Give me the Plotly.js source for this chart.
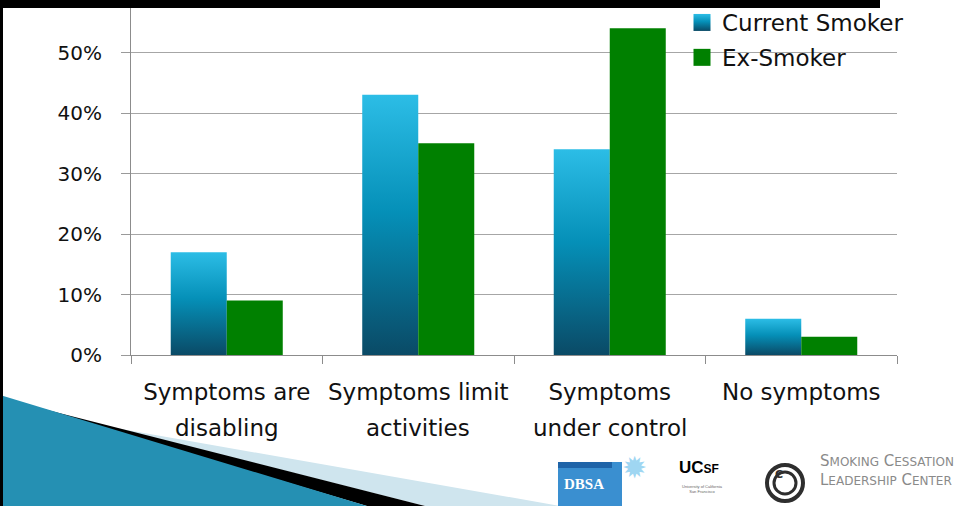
<!DOCTYPE html>
<html>
<head>
<meta charset="utf-8">
<script src="https://cdn.plot.ly/plotly-3.0.1.min.js"></script>
<style>
html,body{margin:0;padding:0;background:#fff;}
#chart{width:964px;height:506px;}
</style>
</head>
<body>
<div id="chart"></div>
<script>
// ---- data ----
const categories = ["Symptoms are disabling", "Symptoms limit activities", "Symptoms under control", "No symptoms"];
const labelLine1 = ["Symptoms are", "Symptoms limit", "Symptoms", "No symptoms"];
const labelLine2 = ["disabling", "activities", "under control", ""];
const currentSmoker = [0.17, 0.43, 0.34, 0.06];
const exSmoker = [0.09, 0.35, 0.54, 0.03];
const yTickVals = [0, 0.1, 0.2, 0.3, 0.4, 0.5];
const seriesNames = ["Current Smoker", "Ex-Smoker"];

// ---- layout helpers (pixel -> paper) ----
const W = 964, H = 506;
const M = {l: 131, r: 67, t: 0, b: 151};
const PW = W - M.l - M.r, PH = H - M.t - M.b;
const px = x => (x - M.l) / PW;
const py = y => (H - M.b - y) / PH;
const poly = pts => 'M' + pts.map(p => px(p[0]) + ',' + py(p[1])).join('L') + 'Z';

const FONT = '"DejaVu Sans", sans-serif';

const traces = [
  {type: 'bar', name: seriesNames[0], x: categories, y: currentSmoker,
   marker: {color: '#1a93bd', line: {width: 0}}, legendgroup: 'a', hoverinfo: 'skip'},
  {type: 'bar', name: seriesNames[1], x: categories, y: exSmoker,
   marker: {color: '#008000', line: {width: 0}}, legendgroup: 'b', hoverinfo: 'skip'}
];

const shapes = [
  // slide decorations
  {type: 'path', xref: 'paper', yref: 'paper', layer: 'below', path: poly([[110,427],[560,506],[425,506]]), fillcolor: '#cfe5ee', line: {width: 0}},
  {type: 'path', xref: 'paper', yref: 'paper', layer: 'below', path: poly([[0,398],[425,506],[367,506]]), fillcolor: '#000000', line: {width: 0}},
  {type: 'path', xref: 'paper', yref: 'paper', layer: 'below', path: poly([[0,395],[0,506],[367,506]]), fillcolor: '#2590b3', line: {width: 0}},
  {type: 'rect', xref: 'paper', yref: 'paper', layer: 'above', x0: px(0), x1: px(880), y0: py(0), y1: py(8), fillcolor: '#000', line: {width: 0}},
  {type: 'rect', xref: 'paper', yref: 'paper', layer: 'above', x0: px(0), x1: px(3), y0: py(0), y1: py(506), fillcolor: '#000', line: {width: 0}},
  // DBSA logo
  {type: 'rect', xref: 'paper', yref: 'paper', layer: 'below', x0: px(558), x1: px(622), y0: py(462), y1: py(506), fillcolor: '#3a8fd0', line: {width: 0}},
  {type: 'rect', xref: 'paper', yref: 'paper', layer: 'below', x0: px(558), x1: px(612), y0: py(462), y1: py(468), fillcolor: '#1f64a8', line: {width: 0}},
  // SCLC logo rings
  {type: 'circle', xref: 'paper', yref: 'paper', layer: 'below', x0: px(767), x1: px(803), y0: py(465), y1: py(501), fillcolor: 'rgba(0,0,0,0)', line: {color: '#2e2e2e', width: 4}},
  {type: 'circle', xref: 'paper', yref: 'paper', layer: 'below', x0: px(774), x1: px(796), y0: py(472), y1: py(494), fillcolor: 'rgba(0,0,0,0)', line: {color: '#2e2e2e', width: 3}}
];

const annotations = [
  {xref: 'paper', yref: 'paper', x: px(584), y: py(494), text: '<b>DBSA</b>', showarrow: false,
   font: {family: '"Liberation Serif", serif', size: 15, color: '#fff'}},
  {xref: 'paper', yref: 'paper', x: px(634), y: py(487), text: '✹', showarrow: false,
   font: {family: FONT, size: 30, color: '#9fd6f2'}},
  {xref: 'paper', yref: 'paper', x: px(677), y: py(479), xanchor: 'left', text: '<b>UC<span style="font-size:12px">SF</span></b>', showarrow: false,
   font: {family: '"Liberation Sans", sans-serif', size: 17, color: '#000'}},
  {xref: 'paper', yref: 'paper', x: px(680), y: py(496), xanchor: 'left', text: 'University of California<br>San Francisco', showarrow: false,
   font: {family: '"Liberation Sans", sans-serif', size: 4, color: '#666'}},
  {xref: 'paper', yref: 'paper', x: px(785), y: py(483), text: '<b>C</b>', showarrow: false,
   font: {family: FONT, size: 11, color: '#2e2e2e'}},
  {xref: 'paper', yref: 'paper', x: px(818), y: py(472), xanchor: 'left', showarrow: false,
   text: 'S<span style="font-size:12px">MOKING</span> C<span style="font-size:12px">ESSATION</span>',
   font: {family: FONT, size: 15, color: '#8a8a8a'}},
  {xref: 'paper', yref: 'paper', x: px(818), y: py(491), xanchor: 'left', showarrow: false,
   text: 'L<span style="font-size:12px">EADERSHIP</span> C<span style="font-size:12px">ENTER</span>',
   font: {family: FONT, size: 15, color: '#8a8a8a'}}
];

// second line of category labels
categories.forEach((c, i) => {
  if (labelLine2[i]) {
    annotations.push({xref: 'x', yref: 'paper', x: c, y: py(428), yanchor: 'middle', text: labelLine2[i],
      showarrow: false, font: {family: FONT, size: 23, color: '#111'}});
  }
});

const layout = {
  width: W, height: H,
  margin: M,
  paper_bgcolor: '#fff', plot_bgcolor: '#fff',
  font: {family: FONT, color: '#111'},
  showlegend: true,
  bargap: 0.415, bargroupgap: 0, barmode: 'group',
  legend: {x: px(682), y: py(1), xanchor: 'left', yanchor: 'top', bgcolor: 'rgba(0,0,0,0)',
           font: {family: FONT, size: 23, color: '#111'}, tracegroupgap: 2, traceorder: 'grouped'},
  xaxis: {type: 'category', categoryarray: categories, tickvals: categories, ticktext: labelLine1,
          range: [-0.5, 3.5], showline: true, linecolor: '#8c8c8c', linewidth: 1,
          ticks: 'outside', tickson: 'boundaries', ticklen: 8, tickcolor: '#8c8c8c',
          tickfont: {family: FONT, size: 23, color: '#111'}, ticklabelstandoff: 16, showgrid: false, zeroline: false},
  yaxis: {range: [0, PH / 605], tickvals: yTickVals, tickformat: '.0%', showline: true, linecolor: '#8c8c8c',
          linewidth: 1, ticks: 'outside', ticklen: 9, tickcolor: '#9a9a9a', gridcolor: '#a6a6a6', gridwidth: 1,
          tickfont: {family: FONT, size: 20, color: '#111'}, ticklabelstandoff: 15, zeroline: false},
  shapes: shapes,
  annotations: annotations
};

Plotly.newPlot('chart', traces, layout, {staticPlot: true}).then(gd => {
  const svg = gd.querySelector('.main-svg');
  let defs = svg.querySelector('defs');
  const NS = 'http://www.w3.org/2000/svg';
  const grad = document.createElementNS(NS, 'linearGradient');
  grad.setAttribute('id', 'gradCS');
  grad.setAttribute('x1', '0'); grad.setAttribute('y1', '0');
  grad.setAttribute('x2', '0'); grad.setAttribute('y2', '1');
  [['0', '#2cbde6'], ['0.45', '#0590b8'], ['1', '#0a4a66']].forEach(s => {
    const st = document.createElementNS(NS, 'stop');
    st.setAttribute('offset', s[0]); st.setAttribute('stop-color', s[1]);
    grad.appendChild(st);
  });
  defs.appendChild(grad);
  const barTraces = gd.querySelectorAll('.barlayer .trace');
  if (barTraces[0]) barTraces[0].querySelectorAll('path').forEach(p => p.style.fill = 'url(#gradCS)');
  const legTraces = gd.querySelectorAll('.legend .traces');
  legTraces.forEach((t, i) => {
    t.querySelectorAll('.legendpoints path').forEach(p => {
      p.setAttribute('d', 'M8.5,8.5H-8.5V-8.5H8.5Z');
      if (i === 0) p.style.fill = 'url(#gradCS)';
    });
  });
});
</script>
</body>
</html>
